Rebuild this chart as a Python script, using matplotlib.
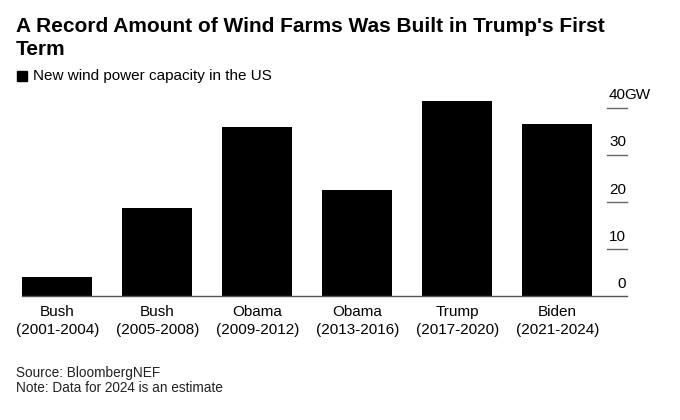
import matplotlib
matplotlib.use("Agg")
import matplotlib.pyplot as plt
from matplotlib.patches import Rectangle

plt.rcParams['font.family'] = ['Liberation Sans', 'DejaVu Sans']

presidents = ['Bush', 'Bush', 'Obama', 'Obama', 'Trump', 'Biden']
terms = ['(2001-2004)', '(2005-2008)', '(2009-2012)', '(2013-2016)', '(2017-2020)', '(2021-2024)']
capacity_gw = [4.1, 18.7, 35.9, 22.7, 41.5, 36.6]
yticks = [0, 10, 20, 30, 40]

fig = plt.figure(figsize=(6.8, 4.2), dpi=100)
ax = fig.add_axes([0.0328, 0.2943, 0.8893, 0.4933])

x = list(range(len(capacity_gw)))
ax.bar(x, capacity_gw, width=0.7, color='black', zorder=2)
ax.set_xlim(-0.35, 5.697)
ax.set_ylim(0, 44)

for s in ['top', 'right', 'left']:
    ax.spines[s].set_visible(False)
ax.spines['bottom'].set_color('#555555')
ax.spines['bottom'].set_linewidth(1)

ax.set_xticks(x)
ax.set_xticklabels([p + '\n' + t for p, t in zip(presidents, terms)],
                   fontsize=11, linespacing=1.4)
ax.tick_params(axis='x', length=0, pad=6)
ax.set_yticks([])

# short gridline stubs with labels at the right
for v in yticks:
    if v > 0:
        ax.plot([5.497, 5.697], [v, v], color='#666666', lw=1, clip_on=False)
    ax.text(5.687, v + 1.85, str(v), ha='right', va='baseline', fontsize=11)
ax.text(5.672, 40 + 1.85, 'GW', ha='left', va='baseline', fontsize=11)

fig.text(0.0235, 1 - 32 / 420, "A Record Amount of Wind Farms Was Built in Trump's First",
         fontsize=15, fontweight='bold', va='baseline', ha='left')
fig.text(0.0235, 1 - 55 / 420, "Term",
         fontsize=15, fontweight='bold', va='baseline', ha='left')

fig.patches.append(Rectangle((17 / 680, 1 - 81 / 420), 10 / 680, 10 / 420,
                             transform=fig.transFigure, color='black'))
fig.text(33 / 680, 1 - 80 / 420, 'New wind power capacity in the US', fontsize=11,
         va='baseline', ha='left')

fig.text(0.0235, 1 - 377 / 420, 'Source: BloombergNEF',
         fontsize=9.8, va='baseline', ha='left', color='#222222')
fig.text(0.0235, 1 - 392 / 420, 'Note: Data for 2024 is an estimate',
         fontsize=9.8, va='baseline', ha='left', color='#222222')

fig.savefig('out.png', dpi=100, facecolor='white')
